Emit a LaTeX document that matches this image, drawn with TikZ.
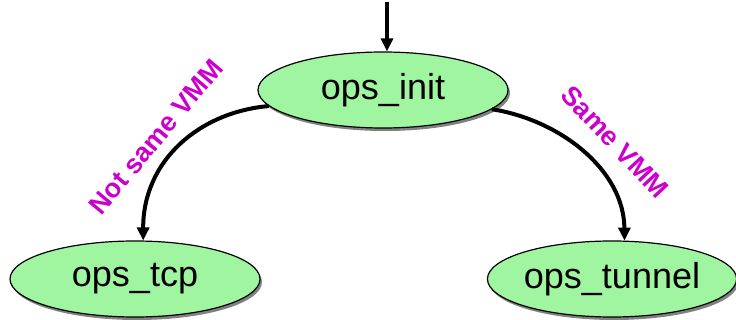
\documentclass[tikz,border=0pt]{standalone}
\usepackage{fontspec}
\setmainfont{Liberation Sans}
\usetikzlibrary{shapes.geometric,arrows.meta,shadows}
\definecolor{nodegreen}{RGB}{160,245,160}
\definecolor{labelmag}{RGB}{204,0,204}
\tikzset{
  state/.style={ellipse, draw=black, line width=1.2pt, fill=nodegreen, inner sep=0pt,
    minimum height=76pt, font=\fontsize{36}{40}\selectfont,
    drop shadow={shadow xshift=2pt, shadow yshift=-3pt, opacity=0.7, fill=black!70}},
  trans/.style={line width=4pt, -{Triangle[length=13pt,width=12pt]}},
  edgelabel/.style={text=labelmag, font=\fontsize{27}{30}\selectfont\bfseries, inner sep=0pt}
}
\begin{document}
\begin{tikzpicture}[x=1pt,y=-1pt]
\useasboundingbox (0,0) rectangle (736,320);
\node[state, minimum width=250pt] (init) at (383,90) {ops\_init};
\node[state, minimum width=250pt] (tcp) at (135,279) {ops\_tcp};
\node[state, minimum width=240pt] (tunnel) at (612,279) {ops\_tunnel};
\coordinate (entry) at (387,2);
\draw[trans] (entry) -- (init.north -| entry);
\draw[trans] (init.188) .. controls (200,112) and (143,160) .. (tcp.78);
\draw[trans] (init.350) .. controls (560,120) and (624,170) .. (tunnel.72);
\node[edgelabel, rotate=50] (lnot) at (156,137) {Not same VMM};
\node[edgelabel, rotate=-47] (lsame) at (615,142) {Same VMM};
\end{tikzpicture}
\end{document}
